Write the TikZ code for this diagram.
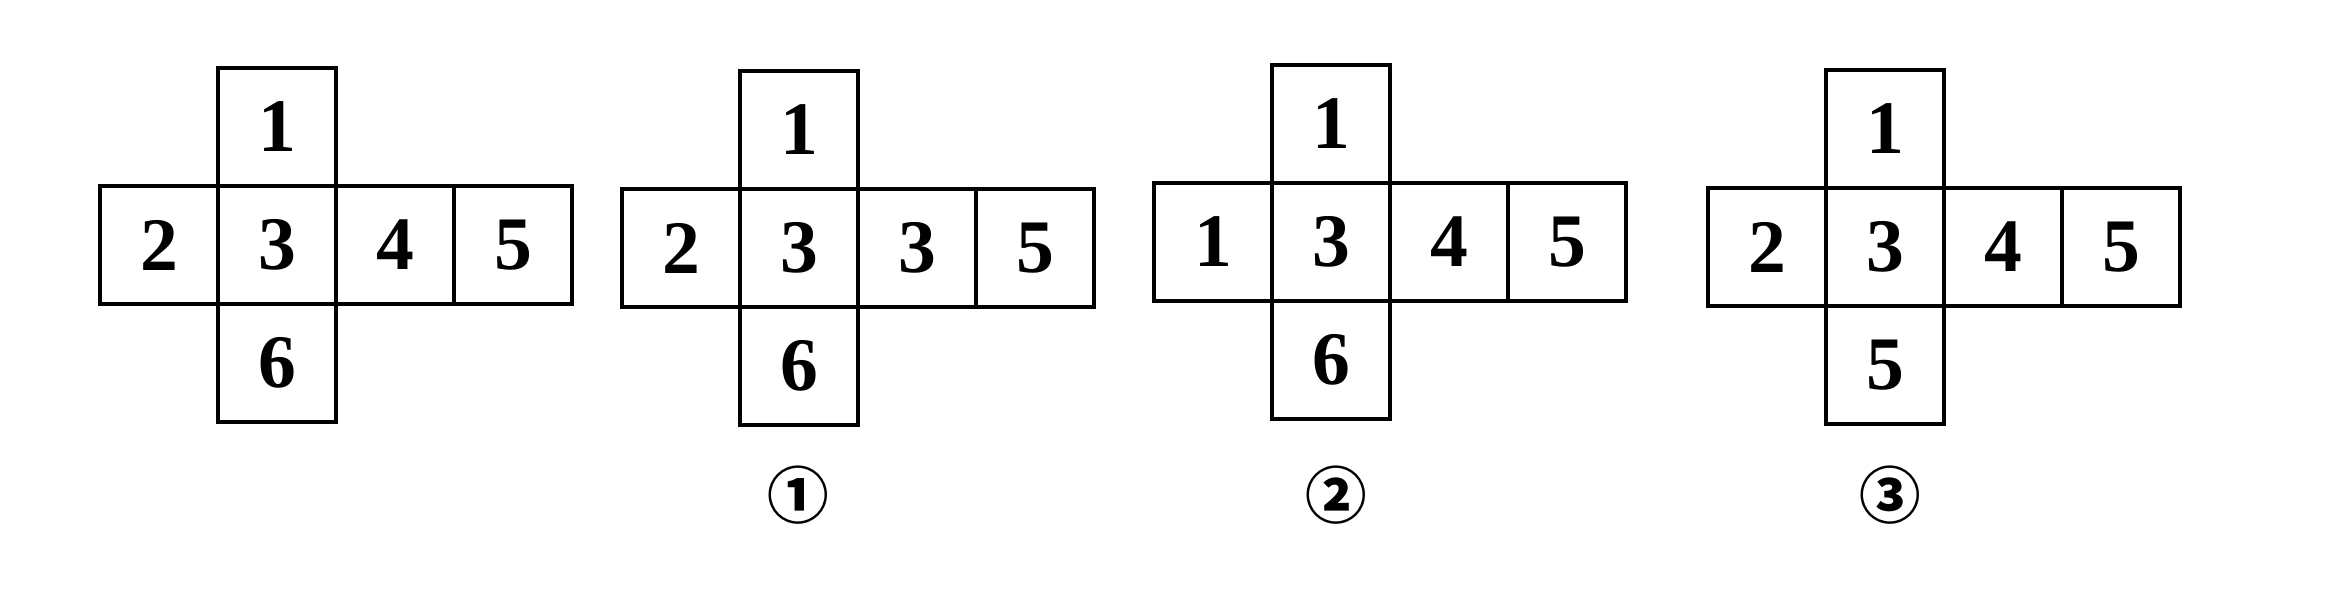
\documentclass[tikz,border=0pt]{standalone}
\usepackage{fontspec}
\setmainfont{Liberation Serif}
\newfontfamily\circfont{Noto Sans CJK SC}
\begin{document}
\begin{tikzpicture}[x=0.01cm,y=-0.01cm,
  cell/.style={draw,line width=0.035cm,minimum size=1.18cm,inner sep=0pt,outer sep=0pt,
    font=\fontsize{21.5}{21.5}\selectfont\bfseries},
  tag/.style={inner sep=0pt,font=\circfont\bfseries\fontsize{17.5}{17.5}\selectfont}]
\useasboundingbox (0,0) rectangle (2342,594);
% net 0
\begin{scope}[shift={(100,186)}]
\node[cell] (a1) at (177,-59) {1};
\node[cell] (a2) at (59,59) {2};
\node[cell] (a3) at (177,59) {3};
\node[cell] (a4) at (295,59) {4};
\node[cell] (a5) at (413,59) {5};
\node[cell] (a6) at (177,177) {6};
\end{scope}
% net 1
\begin{scope}[shift={(622,189)}]
\node[cell] (b1) at (177,-59) {1};
\node[cell] (b2) at (59,59) {2};
\node[cell] (b3) at (177,59) {3};
\node[cell] (b4) at (295,59) {3};
\node[cell] (b5) at (413,59) {5};
\node[cell] (b6) at (177,177) {6};
\end{scope}
% net 2
\begin{scope}[shift={(1154,183)}]
\node[cell] (c1) at (177,-59) {1};
\node[cell] (c2) at (59,59) {1};
\node[cell] (c3) at (177,59) {3};
\node[cell] (c4) at (295,59) {4};
\node[cell] (c5) at (413,59) {5};
\node[cell] (c6) at (177,177) {6};
\end{scope}
% net 3
\begin{scope}[shift={(1708,188)}]
\node[cell] (d1) at (177,-59) {1};
\node[cell] (d2) at (59,59) {2};
\node[cell] (d3) at (177,59) {3};
\node[cell] (d4) at (295,59) {4};
\node[cell] (d5) at (413,59) {5};
\node[cell] (d6) at (177,177) {5};
\end{scope}
\node[tag] (t1) at (798,495) {①};
\node[tag] (t2) at (1336,495) {②};
\node[tag] (t3) at (1890,495) {③};
\end{tikzpicture}
\end{document}
